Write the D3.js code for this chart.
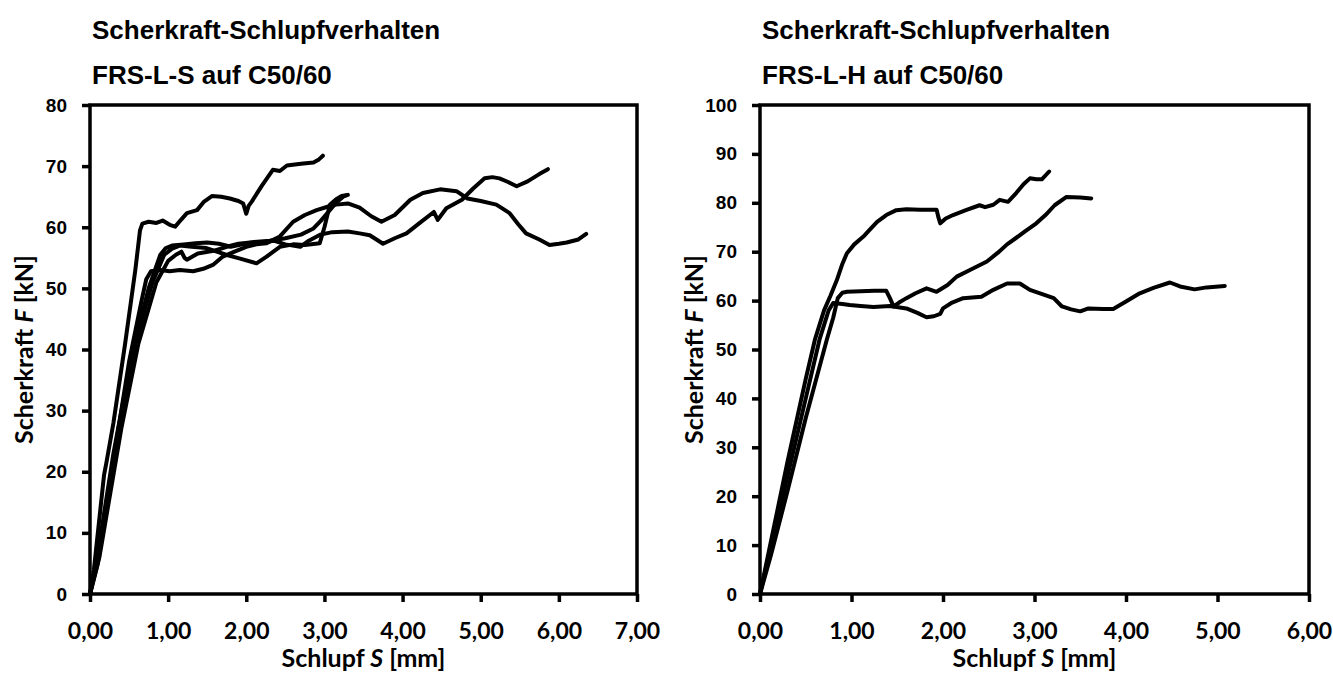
<!DOCTYPE html>
<html lang="de">
<head>
<meta charset="UTF-8">
<script src="https://cdn.jsdelivr.net/npm/d3@7"></script>
<title>Scherkraft-Schlupfverhalten</title>
<style>
  body { margin: 0; background: #fff; }
  .title { font-family: "Liberation Sans", Arial, sans-serif; font-weight: bold; font-size: 26px; }
  .ytick { font-family: "Liberation Sans", Arial, sans-serif; font-weight: bold; font-size: 19px; }
  .xtick, .axtitle { font-family: Lato, "Open Sans", sans-serif; font-weight: bold; }
  .xtick { font-size: 23px; }
  .axtitle { font-size: 25px; }
</style>
</head>
<body>
<div id="container"></div>
<script>
// Titel
var titleTop = "Scherkraft-Schlupfverhalten";
var titleLeft = "FRS-L-S auf C50/60";
var titleRight = "FRS-L-H auf C50/60";

// Achsen
var leftXTicks = [0, 1, 2, 3, 4, 5, 6, 7];
var leftYTicks = [0, 10, 20, 30, 40, 50, 60, 70, 80];
var rightXTicks = [0, 1, 2, 3, 4, 5, 6];
var rightYTicks = [0, 10, 20, 30, 40, 50, 60, 70, 80, 90, 100];

// FRS-L-S : [Schlupf S in mm, Scherkraft F in kN]
var ls1 = [[0,0],[0.05,4],[0.18,19.5],[0.21,21.5],[0.3,28],[0.45,41],[0.58,53],[0.64,59.5],[0.67,60.6],[0.75,60.9],[0.85,60.7],[0.93,61.1],[1.02,60.4],[1.09,60.1],[1.17,61.3],[1.24,62.3],[1.37,62.8],[1.46,64.2],[1.56,65.1],[1.68,65],[1.79,64.7],[1.9,64.3],[1.96,63.9],[2.0,62.2],[2.03,63.5],[2.07,64.2],[2.2,66.8],[2.34,69.4],[2.43,69.2],[2.52,70.1],[2.7,70.4],[2.86,70.6],[2.93,71.1],[2.98,71.7]];
var ls2 = [[0,0],[0.1,5],[0.3,22],[0.5,38],[0.66,48],[0.72,51.5],[0.78,52.8],[0.9,53],[1.02,52.8],[1.15,53],[1.32,52.8],[1.45,53.2],[1.58,53.9],[1.7,55.2],[1.85,56],[2.0,56.8],[2.13,57.2],[2.26,57.4],[2.43,58.5],[2.6,60.9],[2.75,62],[2.9,62.8],[3.05,63.4],[3.15,63.7],[3.3,63.9],[3.45,63.2],[3.6,61.8],[3.73,60.9],[3.9,62],[4.1,64.5],[4.26,65.6],[4.48,66.2],[4.69,65.9],[4.83,64.7],[5.0,64.3],[5.2,63.7],[5.37,62.3],[5.48,60.5],[5.58,59],[5.75,58],[5.88,57.1],[6.0,57.3],[6.1,57.5],[6.25,58],[6.35,58.9]];
var ls3 = [[0,0],[0.12,6],[0.4,27],[0.62,41],[0.85,51],[1.0,54.5],[1.1,55.5],[1.17,56],[1.21,55],[1.24,54.7],[1.38,55.7],[1.6,56.2],[1.75,56.8],[1.9,57.3],[2.05,57.5],[2.2,57.5],[2.35,57.8],[2.5,57.2],[2.69,56.8],[2.8,57.8],[2.95,58.8],[3.1,59.2],[3.3,59.3],[3.45,59],[3.58,58.7],[3.75,57.3],[3.9,58.2],[4.05,59],[4.2,60.5],[4.4,62.5],[4.45,61.2],[4.56,63.1],[4.76,64.5],[4.9,66.3],[5.05,68],[5.15,68.2],[5.24,68],[5.35,67.4],[5.46,66.7],[5.6,67.5],[5.75,68.7],[5.86,69.5]];
var ls4 = [[0,0],[0.08,5],[0.3,23],[0.55,40],[0.75,50],[0.9,55.5],[0.97,56.6],[1.05,57],[1.2,57.2],[1.35,57.4],[1.5,57.5],[1.65,57.3],[1.8,56.8],[1.95,57.2],[2.1,57.6],[2.3,57.8],[2.5,58.2],[2.7,58.8],[2.86,59.8],[2.95,61],[3.05,62.5],[3.15,64],[3.24,65],[3.28,65.2]];
var ls5 = [[0,0],[0.1,6],[0.35,25],[0.6,42],[0.8,51],[0.95,55.5],[1.05,56.5],[1.15,57],[1.3,56.8],[1.49,56.6],[1.74,55.5],[1.91,54.9],[2.13,54.1],[2.26,55.2],[2.43,56.8],[2.6,57.2],[2.75,57.1],[2.94,57.4],[3.0,60],[3.07,63.7],[3.15,64.6],[3.22,65.1],[3.3,65.3]];

// FRS-L-H
var rs1 = [[0,0],[0.1,9],[0.3,27],[0.5,44],[0.6,52],[0.7,58],[0.77,61],[0.84,64.2],[0.9,67.5],[0.95,69.7],[1.03,71.5],[1.13,73.1],[1.2,74.5],[1.28,76.1],[1.38,77.5],[1.49,78.5],[1.6,78.7],[1.75,78.6],[1.93,78.6],[1.95,77],[1.97,75.8],[2.03,76.8],[2.11,77.5],[2.25,78.5],[2.4,79.5],[2.46,79.1],[2.55,79.6],[2.62,80.6],[2.71,80.2],[2.8,82],[2.88,83.8],[2.95,85],[3.02,84.8],[3.08,84.8],[3.16,86.4]];
var rs2 = [[0,0],[0.12,8],[0.3,21],[0.5,36],[0.73,52],[0.8,56.5],[0.85,60.5],[0.9,61.6],[0.95,61.8],[1.1,61.9],[1.25,62],[1.38,62],[1.42,60.5],[1.46,58.8],[1.52,59.6],[1.6,60.5],[1.7,61.5],[1.82,62.5],[1.93,61.8],[2.05,63.2],[2.15,64.9],[2.3,66.3],[2.48,68],[2.6,69.8],[2.7,71.5],[2.79,72.7],[2.9,74.2],[3.02,75.8],[3.12,77.5],[3.22,79.5],[3.35,81.2],[3.5,81.1],[3.62,80.9]];
var rs3 = [[0,0],[0.1,8],[0.3,24],[0.5,40],[0.65,52],[0.75,58],[0.8,59.5],[0.9,59.3],[0.98,59.1],[1.1,58.9],[1.24,58.7],[1.42,58.9],[1.6,58.4],[1.72,57.5],[1.82,56.6],[1.9,56.8],[1.97,57.3],[2.0,58.4],[2.1,59.6],[2.22,60.5],[2.42,60.8],[2.55,62.2],[2.7,63.5],[2.84,63.5],[2.95,62.2],[3.1,61.2],[3.21,60.5],[3.3,58.8],[3.4,58.2],[3.5,57.8],[3.59,58.4],[3.75,58.3],[3.86,58.3],[4.0,59.8],[4.15,61.5],[4.3,62.6],[4.48,63.7],[4.59,62.9],[4.75,62.3],[4.88,62.7],[5.08,63]];

var width = 1333, height = 675;

var svg = d3.select("#container").append("svg")
    .attr("width", width)
    .attr("height", height);

var fmt = function(d){ return d3.format(".2f")(d).replace(".", ","); };

function drawChart(opt) {
  var x = d3.scaleLinear().domain([0, d3.max(opt.xTicks)]).range([opt.left, opt.right]);
  var y = d3.scaleLinear().domain([0, d3.max(opt.yTicks)]).range([opt.bottom, opt.top]);
  var g = svg.append("g");

  // Titel
  g.append("text").attr("class", "title").attr("x", opt.left + 2).attr("y", 39).text(titleTop);
  g.append("text").attr("class", "title").attr("x", opt.left + 2).attr("y", 84).text(opt.subtitle);

  // Kurven
  var line = d3.line().x(function(d){ return x(d[0]); }).y(function(d){ return y(d[1]); });
  g.selectAll("path.curve")
    .data(opt.series)
    .enter()
    .append("path")
    .attr("class", "curve")
    .attr("d", line)
    .attr("fill", "none")
    .attr("stroke", "#000")
    .attr("stroke-width", 4)
    .attr("stroke-linejoin", "round")
    .attr("stroke-linecap", "round");

  // Rahmen
  g.append("rect")
    .attr("x", opt.left).attr("y", opt.top)
    .attr("width", opt.right - opt.left).attr("height", opt.bottom - opt.top)
    .attr("fill", "none").attr("stroke", "#000").attr("stroke-width", 3.5);

  // Achsen
  var xAxis = d3.axisBottom(x).tickValues(opt.xTicks).tickFormat(fmt).tickSize(8).tickPadding(21);
  var yAxis = d3.axisLeft(y).tickValues(opt.yTicks).tickFormat(d3.format("d")).tickSize(8).tickPadding(15);

  var gx = g.append("g").attr("transform", "translate(0," + opt.bottom + ")").call(xAxis);
  gx.select(".domain").remove();
  gx.selectAll("line").attr("stroke-width", 3.5);
  gx.selectAll("text").attr("class", "xtick").attr("fill", "#000");

  var gy = g.append("g").attr("transform", "translate(" + opt.left + ",0)").call(yAxis);
  gy.select(".domain").remove();
  gy.selectAll("line").attr("stroke-width", 3.5);
  gy.selectAll("text").attr("class", "ytick").attr("fill", "#000");

  // Achsentitel
  var xt = g.append("text").attr("class", "axtitle")
    .attr("x", (opt.left + opt.right) / 2).attr("y", 667)
    .attr("text-anchor", "middle");
  xt.append("tspan").text("Schlupf ");
  xt.append("tspan").attr("font-style", "italic").text("S");
  xt.append("tspan").text(" [mm]");

  var cy = (opt.top + opt.bottom) / 2;
  var yt = g.append("text").attr("class", "axtitle")
    .attr("transform", "translate(" + (opt.left - 57) + "," + cy + ") rotate(-90)")
    .attr("text-anchor", "middle");
  yt.append("tspan").text("Scherkraft ");
  yt.append("tspan").attr("font-style", "italic").text("F");
  yt.append("tspan").text(" [kN]");
}

drawChart({
  left: 90, right: 637, top: 105, bottom: 594,
  xTicks: leftXTicks, yTicks: leftYTicks,
  subtitle: titleLeft,
  series: [ls1, ls2, ls3, ls4, ls5]
});

drawChart({
  left: 760, right: 1309, top: 105, bottom: 594,
  xTicks: rightXTicks, yTicks: rightYTicks,
  subtitle: titleRight,
  series: [rs1, rs2, rs3]
});
</script>
</body>
</html>
